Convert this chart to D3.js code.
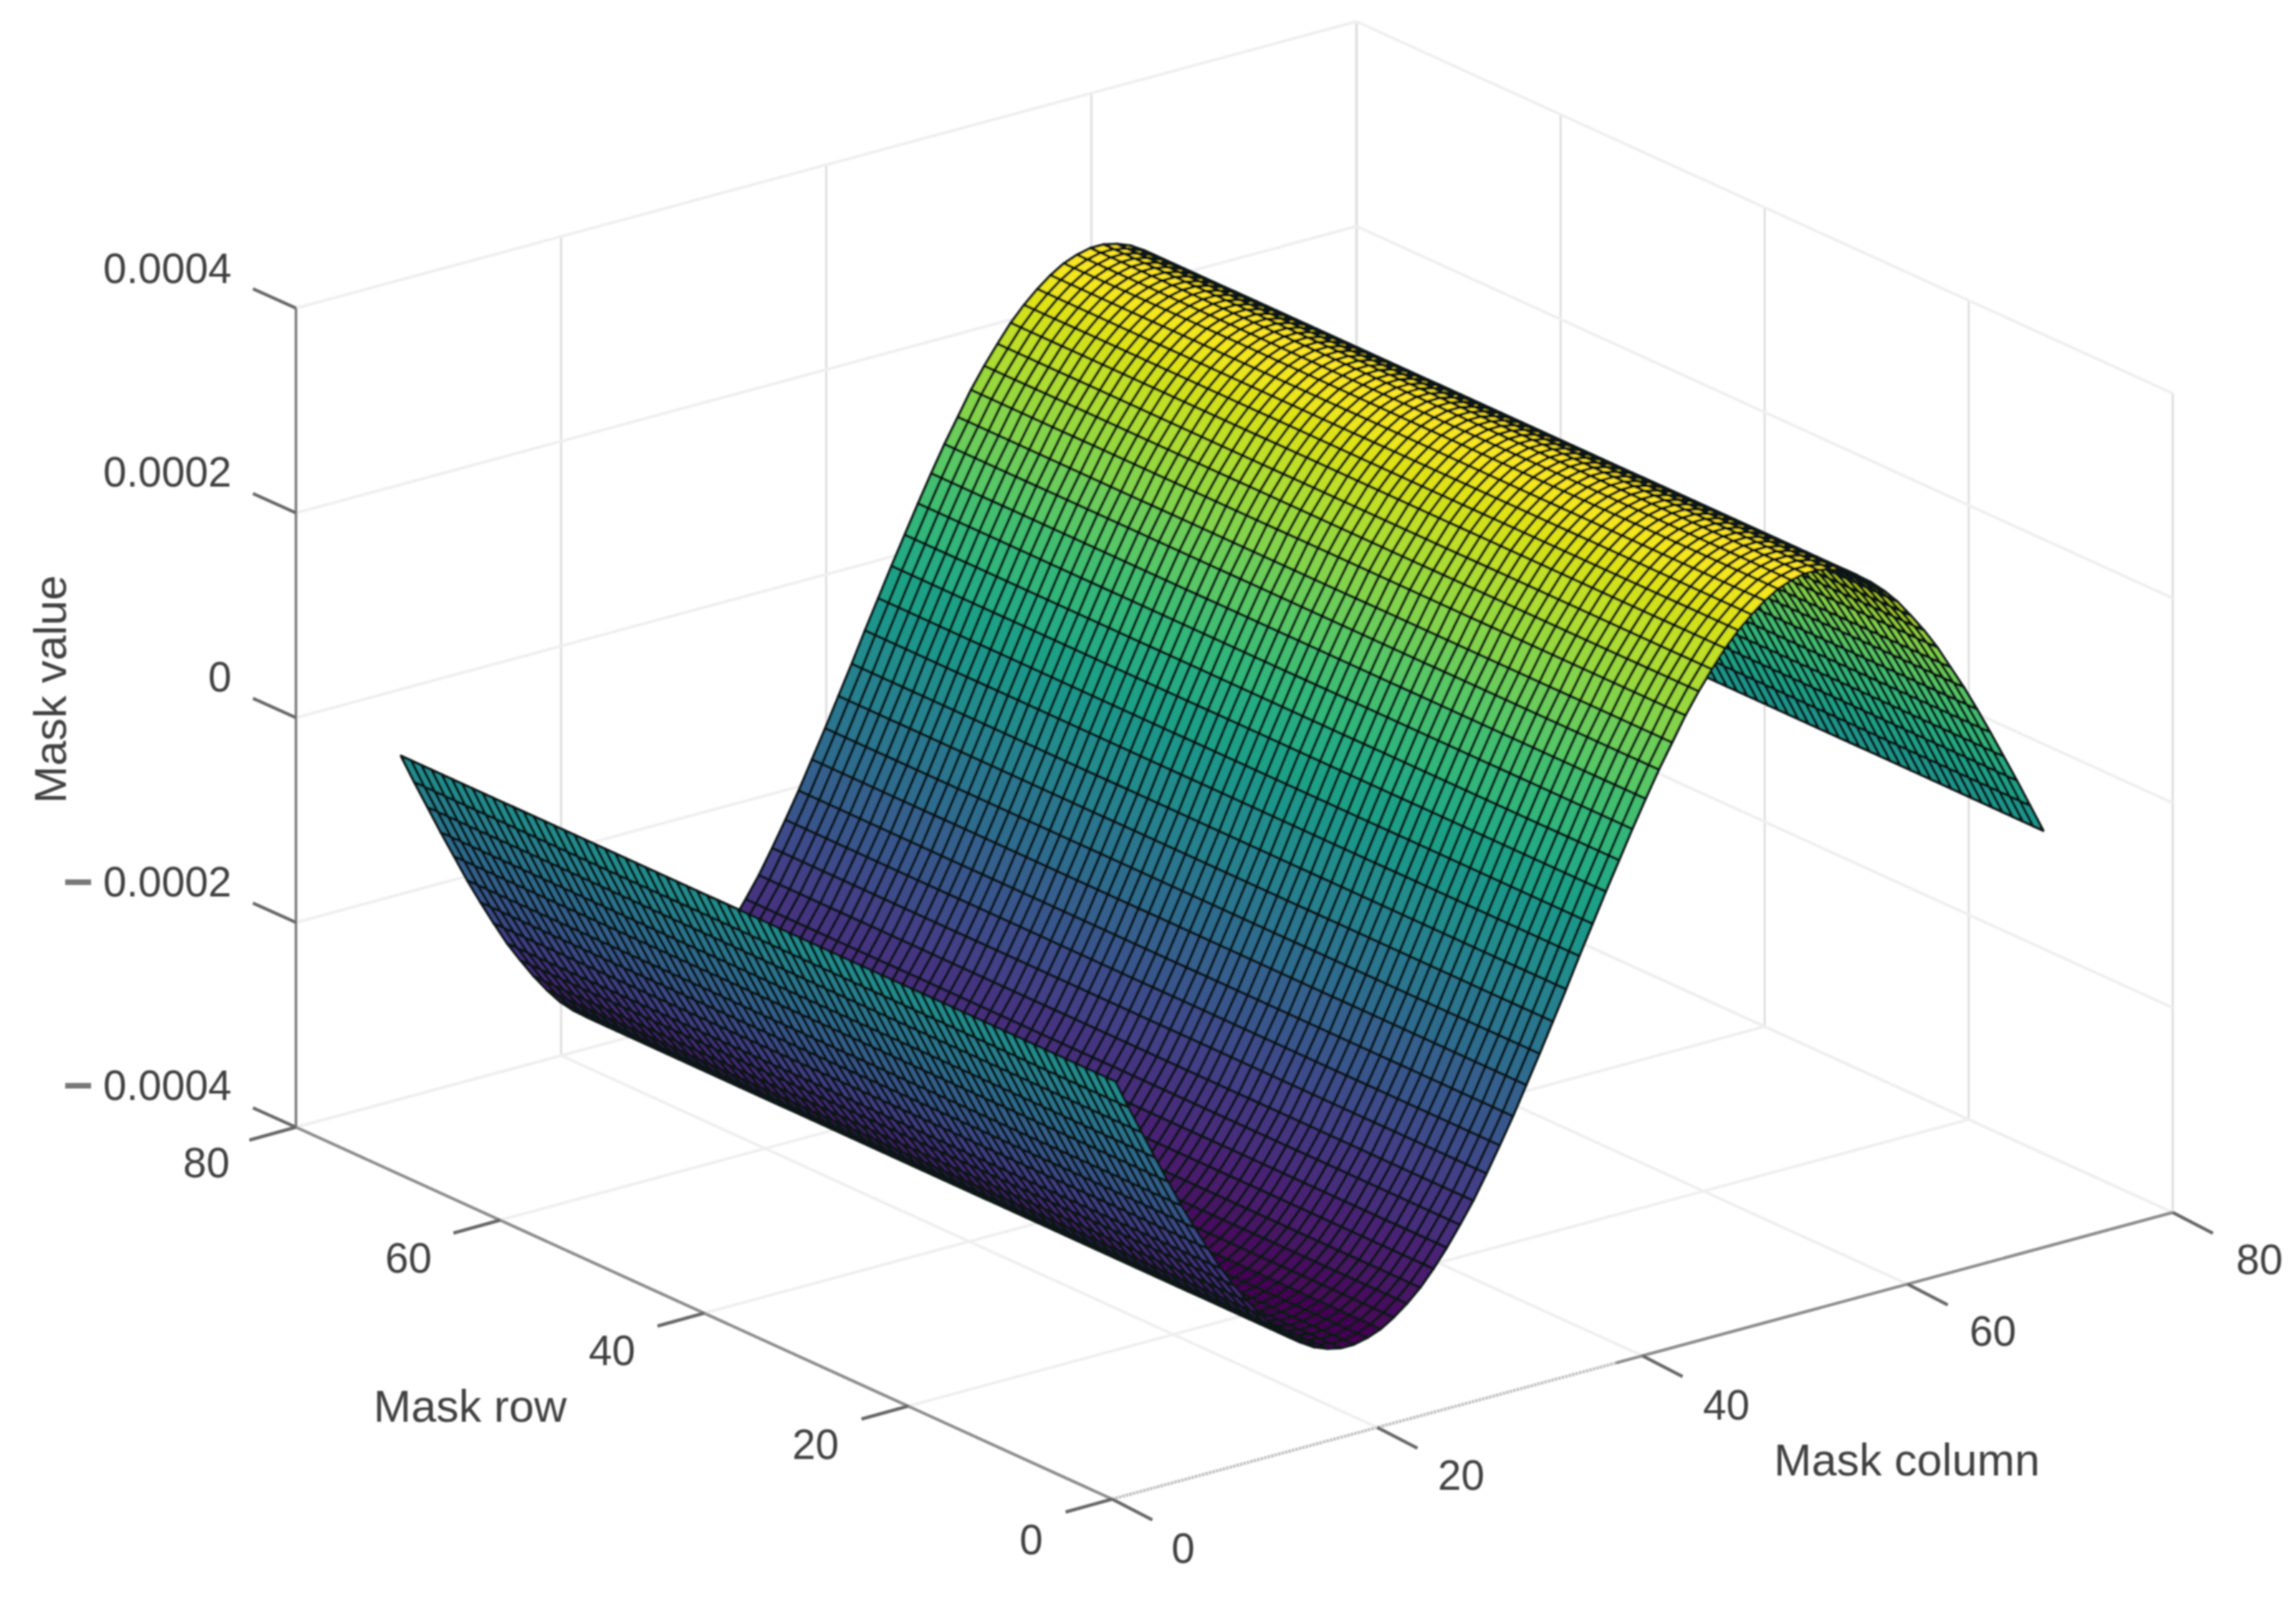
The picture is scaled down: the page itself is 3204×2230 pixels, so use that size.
<!DOCTYPE html>
<html><head><meta charset="utf-8">
<script src="https://cdnjs.cloudflare.com/ajax/libs/d3/7.8.5/d3.min.js"></script>
<style>html,body{margin:0;background:#fff}svg{display:block}text{font-family:"Liberation Sans",Arial,sans-serif;fill:#404040}</style>
</head><body><svg id="c" width="3204" height="2230"></svg>
<script>
// ---- data ----
const rowTicks=[0,20,40,60,80];
const colTicks=[0,20,40,60,80];
const zTicks=[-0.0004,-0.0002,0,0.0002,0.0004];
const zTickLabels=["0.0004","0.0002","0","0.0002","0.0004"];
const maskRows=[1,2,3,4,5,6,7,8,9,10,11,12,13,14,15,16,17,18,19,20,21,22,23,24,25,26,27,28,29,30,31,32,33,34,35,36,37,38,39,40,41,42,43,44,45,46,47,48,49,50,51,52,53,54,55,56,57,58,59,60,61,62,63,64,65,66,67,68,69,70,71];
const maskCols=[1,2,3,4,5,6,7,8,9,10,11,12,13,14,15,16,17,18,19,20,21,22,23,24,25,26,27,28,29,30,31,32,33,34,35,36,37,38,39,40,41,42,43,44,45,46,47,48,49,50,51,52,53,54,55,56,57,58,59,60,61,62,63,64,65,66,67,68,69,70,71];
// mask value (x 1e-4) at each mask column; identical along every row
const profile=[0,-0.29,-0.57,-0.85,-1.12,-1.39,-1.64,-1.88,-2.11,-2.31,-2.50,-2.67,-2.82,-2.94,-3.04,-3.12,-3.17,-3.20,-3.20,-3.17,-3.12,-3.04,-2.94,-2.82,-2.67,-2.50,-2.31,-2.11,-1.88,-1.64,-1.39,-1.12,-0.85,-0.57,-0.29,0,0.28,0.56,0.83,1.10,1.36,1.61,1.84,2.07,2.27,2.45,2.62,2.76,2.88,2.98,3.06,3.11,3.14,3.14,3.11,3.06,2.98,2.88,2.76,2.62,2.45,2.27,2.07,1.84,1.61,1.36,1.10,0.83,0.56,0.28,0];

// ---- oblique 3-D projection built from linear scales ----
const originX=1552, originY=2092;
const rowDX=d3.scaleLinear([0,80],[0,-1139]), rowDY=d3.scaleLinear([0,80],[0,-519]);
const colDX=d3.scaleLinear([0,80],[0,1480]),  colDY=d3.scaleLinear([0,80],[0,-400]);
const zDY=d3.scaleLinear([-0.0004,0.0004],[0,-1143]);
const P=(r,c,z)=>[originX+rowDX(r)+colDX(c), originY+rowDY(r)+colDY(c)+zDY(z)];
const color=d3.scaleSequential(d3.interpolateViridis).domain([-0.00032,0.000314]);

const svg=d3.select("#c");
const defs=svg.append("defs");
defs.append("filter").attr("id","soft").attr("filterUnits","userSpaceOnUse").attr("x",0).attr("y",0).attr("width",3204).attr("height",2230)
  .append("feGaussianBlur").attr("stdDeviation",1.3);
defs.append("filter").attr("id","softT").attr("filterUnits","userSpaceOnUse").attr("x",0).attr("y",0).attr("width",3204).attr("height",2230)
  .append("feGaussianBlur").attr("stdDeviation",1.0);
const line=(g,a,b,col,w,dash)=>g.append("line").attr("x1",a[0]).attr("y1",a[1]).attr("x2",b[0]).attr("y2",b[1])
  .attr("stroke",col).attr("stroke-width",w).attr("stroke-dasharray",dash||null);

// ---- grid on the back walls and floor ----
const grid=svg.append("g").attr("filter","url(#softT)");
const zMin=-0.0004,zMax=0.0004;
const gridLight="#efefef", gridVert="#dedede";
rowTicks.forEach(r=>{
  line(grid,P(r,0,zMin),P(r,80,zMin),gridLight,4);
  line(grid,P(r,80,zMin),P(r,80,zMax),gridVert,3);
});
colTicks.forEach(c=>{
  line(grid,P(0,c,zMin),P(80,c,zMin),gridLight,4);
  line(grid,P(80,c,zMin),P(80,c,zMax),gridVert,3);
});
zTicks.forEach(z=>{
  line(grid,P(80,0,z),P(80,80,z),gridLight,4);
  line(grid,P(80,80,z),P(0,80,z),gridLight,4);
});

// ---- axes ----
const axes=svg.append("g").attr("filter","url(#softT)");
const tickCol="#666";
line(axes,P(80,0,zMin),P(80,0,zMax),"#808080",3.5);
line(axes,P(0,0,zMin),P(80,0,zMin),"#8c8c8c",4);
line(axes,P(0,0,zMin),P(0,38,zMin),"#bcbcbc",4,"3 2");
line(axes,P(0,38,zMin),P(0,80,zMin),"#8c8c8c",4);
const tk=([x,y],dx,dy)=>line(axes,[x,y],[x+dx,y+dy],tickCol,4.5);
rowTicks.forEach(r=>tk(P(r,0,zMin),-65,18));
colTicks.forEach(c=>tk(P(0,c,zMin),56,29));
zTicks.forEach(z=>tk(P(80,0,z),-60,-27));

// ---- surface: painted far to near ----
const surf=svg.append("g").attr("filter","url(#soft)");
const lineGen=d3.line();
for(let j=maskCols.length-2;j>=0;j--){
  for(let i=maskRows.length-2;i>=0;i--){
    const z0=profile[j]*1e-4, z1=profile[j+1]*1e-4;
    const r0=maskRows[i], r1=maskRows[i+1], c0=maskCols[j], c1=maskCols[j+1];
    const pts=[P(r0,c0,z0),P(r1,c0,z0),P(r1,c1,z1),P(r0,c1,z1)];
    surf.append("path").attr("d",lineGen(pts)+"Z")
      .attr("fill",color((z0+z1)/2)).attr("stroke","#0b1414").attr("stroke-width",3.6).attr("stroke-linejoin","round");
  }
}

// ---- text ----
const labels=svg.append("g").attr("filter","url(#softT)").attr("font-size",58.5);
const zPos=[1514,1230,944,658,374];
zTicks.forEach((z,i)=>{
  const t=labels.append("text").attr("x",323).attr("y",zPos[i]).attr("text-anchor","end").attr("dominant-baseline","central");
  if(z<0){t.append("tspan").attr("font-size",72).attr("font-weight","bold").attr("fill","#777").text("\u2212");t.append("tspan").attr("dx",14).text(zTickLabels[i]);}
  else t.text(zTickLabels[i]);
});
const rowPos=[[1439,2148],[1138,2015],[854,1884],[570,1755],[288,1622]];
rowTicks.forEach((r,i)=>labels.append("text").attr("x",rowPos[i][0]).attr("y",rowPos[i][1]).attr("text-anchor","middle").attr("dominant-baseline","central").text(r));
const colPos=[[1651,2160],[2039,2058],[2409,1960],[2781,1857],[3153,1757]];
colTicks.forEach((c,i)=>labels.append("text").attr("x",colPos[i][0]).attr("y",colPos[i][1]).attr("text-anchor","middle").attr("dominant-baseline","central").text(c));
labels.append("text").attr("x",656).attr("y",1962).attr("text-anchor","middle").attr("dominant-baseline","central").attr("font-size",63).text("Mask row");
labels.append("text").attr("x",2661).attr("y",2037).attr("text-anchor","middle").attr("dominant-baseline","central").attr("font-size",63).text("Mask column");
labels.append("text").attr("transform","translate(70,962) rotate(-90)").attr("text-anchor","middle").attr("dominant-baseline","central").attr("font-size",63).text("Mask value");
</script></body></html>
